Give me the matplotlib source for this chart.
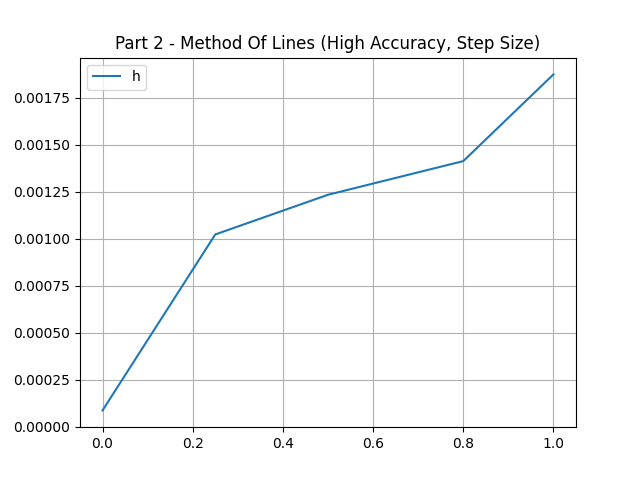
import matplotlib
matplotlib.use('Agg')
import matplotlib.pyplot as plt

# 数据
x = [0.0, 0.25, 0.5, 0.8, 1.0]
h = [0.0000875, 0.001023, 0.001234, 0.001413, 0.001874]

fig, ax = plt.subplots(figsize=(6.4, 4.8), dpi=100)
ax.plot(x, h, label='h')
ax.grid(True)
ax.legend(loc='upper left')
ax.set_title('Part 2 - Method Of Lines (High Accuracy, Step Size)')

plt.savefig('out.png')
plt.close()
